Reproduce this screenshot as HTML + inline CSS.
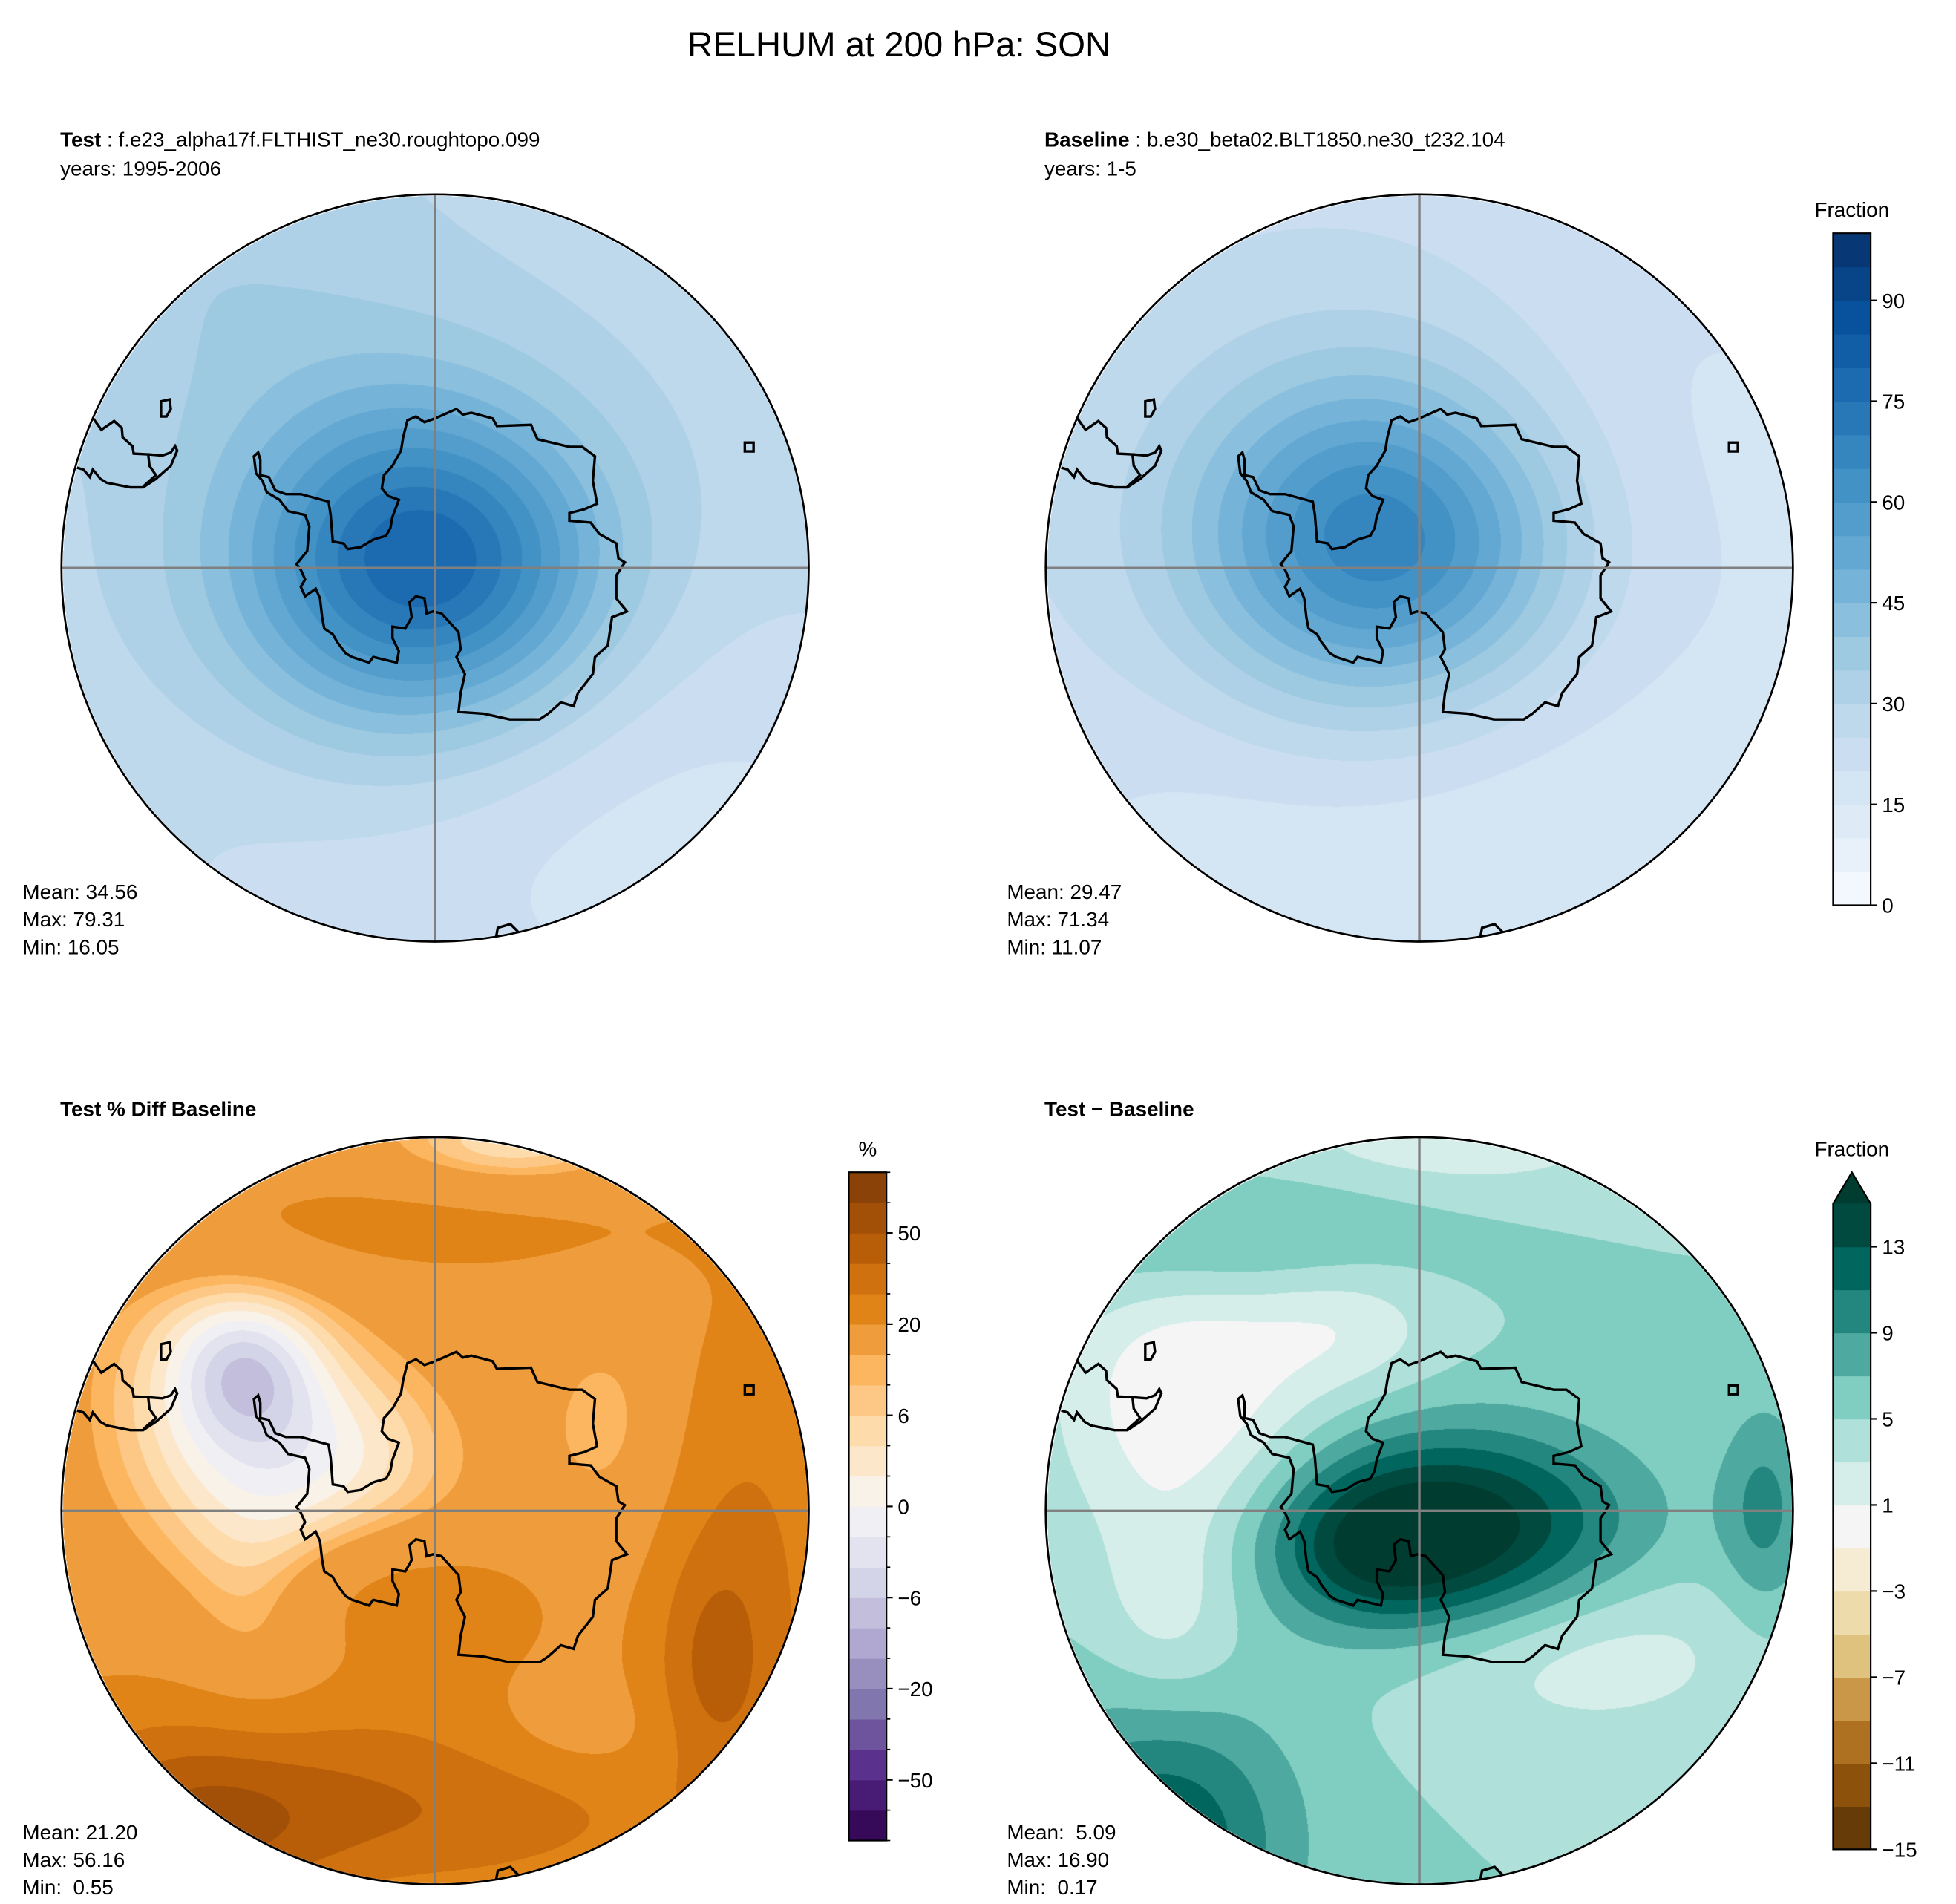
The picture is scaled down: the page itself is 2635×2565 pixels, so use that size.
<!DOCTYPE html>
<html><head><meta charset="utf-8">
<style>
html,body{margin:0;padding:0;background:#fff;}
#wrap{position:relative;width:2635px;height:2565px;}
canvas,svg{position:absolute;left:0;top:0;}
text{font-family:"Liberation Sans","DejaVu Sans",sans-serif;fill:#000;white-space:pre;}
</style></head>
<body>
<div id="wrap">
<canvas id="cv" width="2635" height="2565"></canvas>
<svg id="sv" width="2635" height="2565" viewBox="0 0 1560 1518.6">
<text x="717" y="45" font-size="28" text-anchor="middle">RELHUM at 200 hPa: SON</text>
<text x="48" y="117" font-size="16.5"><tspan font-weight="bold">Test</tspan> : f.e23_alpha17f.FLTHIST_ne30.roughtopo.099</text>
<text x="48" y="140" font-size="16.5">years: 1995-2006</text>
<text x="833" y="117" font-size="16.5"><tspan font-weight="bold">Baseline</tspan> : b.e30_beta02.BLT1850.ne30_t232.104</text>
<text x="833" y="140" font-size="16.5">years: 1-5</text>
<text x="48" y="890" font-size="16.5" font-weight="bold">Test % Diff Baseline</text>
<text x="833" y="890" font-size="16.5" font-weight="bold">Test − Baseline</text>
<g font-size="16.5">
<text x="18" y="717">Mean: 34.56</text>
<text x="18" y="739">Max: 79.31</text>
<text x="18" y="761">Min: 16.05</text>
<text x="803" y="717">Mean: 29.47</text>
<text x="803" y="739">Max: 71.34</text>
<text x="803" y="761">Min: 11.07</text>
<text x="18" y="1467">Mean: 21.20</text>
<text x="18" y="1489">Max: 56.16</text>
<text x="18" y="1511">Min:  0.55</text>
<text x="803" y="1467">Mean:  5.09</text>
<text x="803" y="1489">Max: 16.90</text>
<text x="803" y="1511">Min:  0.17</text>
</g>
<g id="overlay"></g>
</svg>
</div>
<script>
// colorbar levels
const bluesLevels = [0,5,10,15,20,25,30,35,40,45,50,55,60,65,70,75,80,85,90,95,100];
const bluesTicks = [0,15,30,45,60,75,90];
const pctLevels = [-100,-75,-50,-40,-30,-20,-10,-8,-6,-4,-2,0,2,4,6,8,10,20,30,40,50,75,100];
const pctTicks = [-50,-20,-6,0,6,20,50];
const diffLevels = [-15,-13,-11,-9,-7,-5,-3,-1,1,3,5,7,9,11,13,15];
const diffTicks = [-15,-11,-7,-3,1,5,9,13];
// field descriptions: background value and blobs [dx,dy,sx,sy,amp]
const testBg = 28;
const testBlobs = [[-25,-5,100,95,46],[45,0,80,70,10],[-190,-240,120,90,6],[190,230,200,140,-10],[-150,190,120,100,-2]];
const baseBg = 24;
const baseBlobs = [[-45,-25,100,95,42],[40,-10,80,70,7],[210,-90,150,150,-5],[110,240,210,120,-8],[-180,200,120,100,-3]];
const pctBg = 15;
const pctBlobs = [[-170,-85,75,95,-13],[-150,-115,40,40,-8],[-60,-40,70,60,-9],[-140,110,45,70,-8],[140,-70,40,60,-7],[110,180,60,30,-8],[-185,255,70,50,26],[250,60,50,150,17],[220,120,30,60,15],[-100,200,200,60,13],[0,250,140,45,15],[-20,70,80,35,10],[-50,-230,200,35,9],[60,-290,80,30,-12]];
const diffBg = 5;
const diffBlobs = [[25,15,95,55,12],[-40,35,55,40,4],[-205,265,70,80,8],[-185,-95,70,85,-6],[-60,-150,55,40,-3.5],[-160,-215,110,40,4],[275,0,25,60,4.5],[130,110,100,50,-3.5],[20,-290,120,30,-3],[-200,80,40,60,-3]];

const S = 2635/1560;
const R = 298;
const panels = [
 {cx:347,cy:453,bg:testBg,blobs:testBlobs,levels:bluesLevels,cmap:'blues',name:'test-map'},
 {cx:1132,cy:453,bg:baseBg,blobs:baseBlobs,levels:bluesLevels,cmap:'blues',name:'baseline-map'},
 {cx:347,cy:1205,bg:pctBg,blobs:pctBlobs,levels:pctLevels,cmap:'puor',name:'pct-diff-map'},
 {cx:1132,cy:1205,bg:diffBg,blobs:diffBlobs,levels:diffLevels,cmap:'brbg',name:'diff-map'}
];
const anchors = {
 blues:['#f7fbff','#deebf7','#c6dbef','#9ecae1','#6baed6','#4292c6','#2171b5','#08519c','#08306b'],
 puor:['#2d004b','#542788','#8073ac','#b2abd2','#d8daeb','#f7f7f7','#fee0b6','#fdb863','#e08214','#b35806','#7f3b08'],
 brbg:['#543005','#8c510a','#bf812d','#dfc27d','#f6e8c3','#f5f5f5','#c7eae5','#80cdc1','#35978f','#01665e','#003c30']
};
function hex(h){return [parseInt(h.substr(1,2),16),parseInt(h.substr(3,2),16),parseInt(h.substr(5,2),16)];}
function interp(name,t){const a=anchors[name];const p=t*(a.length-1);const i=Math.min(a.length-2,Math.floor(p));const f=p-i;const c0=hex(a[i]),c1=hex(a[i+1]);return c0.map((v,k)=>Math.round(v+(c1[k]-v)*f));}
function colors(name,n){const r=[];for(let i=0;i<n;i++)r.push(interp(name,(i+0.5)/n));return r;}
function levelIndex(levels,v){if(v<levels[0])return 0;for(let i=0;i<levels.length-1;i++){if(v<levels[i+1])return i;}return levels.length-2;}
function field(p,dx,dy){let v=p.bg;for(const b of p.blobs){const u=(dx-b[0])/b[2],w=(dy-b[1])/b[3];v+=b[4]*Math.exp(-0.5*(u*u+w*w));}return v;}

const cv=document.getElementById('cv');const ctx=cv.getContext('2d');
const img=ctx.createImageData(2635,2565);const D=img.data;
for(let i=0;i<D.length;i+=4){D[i]=255;D[i+1]=255;D[i+2]=255;D[i+3]=255;}
for(const p of panels){
 const cols=colors(p.cmap,p.levels.length-1);
 if(p.cmap==='brbg'){cols.push(hex('#003c30'));}
 const x0=Math.floor((p.cx-R)*S),x1=Math.ceil((p.cx+R)*S),y0=Math.floor((p.cy-R)*S),y1=Math.ceil((p.cy+R)*S);
 for(let py=y0;py<=y1;py++){for(let px=x0;px<=x1;px++){
  const dx=px/S-p.cx,dy=py/S-p.cy;if(dx*dx+dy*dy>(R-1)*(R-1))continue;
  const v=field(p,dx,dy);let idx;
  if(p.cmap==='brbg'&&v>=15)idx=cols.length-1;else idx=levelIndex(p.levels,v);
  const c=cols[idx];const o=(py*2635+px)*4;D[o]=c[0];D[o+1]=c[1];D[o+2]=c[2];
 }}
}
ctx.putImageData(img,0,0);

const NS='http://www.w3.org/2000/svg';
const ov=document.getElementById('overlay');
function mk(tag,attrs,parent){const e=document.createElementNS(NS,tag);for(const k in attrs)e.setAttribute(k,attrs[k]);(parent||ov).appendChild(e);return e;}
const coastZ=[[1015,615],[1065,590],[1080,605],[1100,600],[1150,615],[1160,635],[1240,632],[1255,670],[1330,690],[1360,690],[1390,715],[1385,780],[1395,840],[1365,855],[1330,865],[1330,885],[1380,890],[1400,920],[1440,945],[1445,985],[1460,995],[1440,1030],[1440,1090],[1465,1125],[1430,1140],[1420,1215],[1390,1245],[1385,1290],[1350,1340],[1340,1375],[1310,1365],[1280,1395],[1260,1410],[1190,1410],[1130,1395],[1070,1390],[1075,1340],[1085,1290],[1065,1245],[1075,1225],[1070,1180],[1030,1130],[1010,1125],[995,1130],[990,1090],[970,1085],[955,1100],[960,1140],[945,1170],[915,1165],[915,1195],[930,1230],[925,1260],[870,1245],[860,1260],[820,1245],[805,1235],[785,1205],[775,1185],[755,1170],[750,1140],[745,1090],[735,1065],[710,1085],[700,1060],[710,1040],[700,1015],[690,1000],[715,965],[720,900],[710,870],[670,860],[650,830],[620,810],[610,780],[595,760],[590,715],[600,705],[605,725],[605,765],[625,770],[640,805],[665,815],[700,815],[765,835],[770,870],[775,940],[800,945],[810,960],[840,955],[870,935],[900,925],[910,905],[915,875],[930,830],[905,820],[890,800],[895,765],[915,740],[935,700],[940,665],[950,620],[970,610],[990,625],[1015,615]];
const saZ=[[213,615],[232,645],[262,622],[280,640],[282,665],[305,688],[308,708],[342,710],[345,740],[360,765],[330,795]];
const saZ2=[[175,745],[190,750],[205,770],[212,750],[230,775],[245,785],[300,797],[330,797],[360,775],[395,740],[410,700],[405,688],[395,705],[375,713],[342,710]];
const islZ=[[372,570],[392,565],[395,590],[385,610],[372,610],[372,570]];
function zpath(pts,cx,cy,close){return pts.map((q,i)=>(i?'L':'M')+(cx+(q[0]-1015)*0.340).toFixed(1)+' '+(cy+(q[1]-1010)*0.302).toFixed(1)).join(' ')+(close?' Z':'');}
for(const p of panels){
 const g=mk('g',{});
 
 
 const cp=mk('clipPath',{id:'c'+p.name},g);mk('circle',{cx:p.cx,cy:p.cy,r:R},cp);
 const inner=mk('g',{'clip-path':'url(#c'+p.name+')'},g);
 const ant=mk('path',{d:zpath(coastZ,p.cx,p.cy,true),fill:'none',stroke:'#000','stroke-width':2},inner);
 
 
 const sa=mk('path',{d:zpath(saZ,p.cx,p.cy,false)+' '+zpath(saZ2,p.cx,p.cy,false)+' '+zpath(islZ,p.cx,p.cy,true),fill:'none',stroke:'#000','stroke-width':2},inner);
 
 
 mk('rect',{x:p.cx+247,y:p.cy-100,width:7,height:7,fill:'none',stroke:'#000','stroke-width':2},inner);
 mk('path',{d:`M${p.cx+48} ${p.cy+298} L${p.cx+50} ${p.cy+287} L${p.cx+60} ${p.cy+284} L${p.cx+66} ${p.cy+290} L${p.cx+64} ${p.cy+298}`,fill:'none',stroke:'#000','stroke-width':2},inner);
 const gl=mk('path',{d:`M${p.cx-R} ${p.cy} H${p.cx+R} M${p.cx} ${p.cy-R} V${p.cy+R}`,stroke:'#808080','stroke-width':2},inner);
 
 
 const bd=mk('circle',{cx:p.cx,cy:p.cy,r:R,fill:'none',stroke:'#000','stroke-width':1.6},g);
 
 
}
function colorbar(name,x,yTop,yBot,levels,ticks,cmap,label,labelY,extend){
 const g=mk('g',{});
 
 
 const n=levels.length-1;const cols=colors(cmap,n);const h=(yBot-yTop)/n;const w=30;
 for(let i=0;i<n;i++){
  const r=mk('rect',{x:x,y:yBot-(i+1)*h,width:w,height:h+0.4,fill:'rgb('+cols[i].join(',')+')'},g);
  
  
 }
 let outline=`M${x} ${yBot} V${yTop} H${x+w} V${yBot} Z`;
 if(extend){const t=mk('path',{d:`M${x} ${yTop} L${x+w/2} ${yTop-25} L${x+w} ${yTop} Z`,fill:'#003c30'},g);
  
  
  outline=`M${x} ${yBot} V${yTop} L${x+w/2} ${yTop-25} L${x+w} ${yTop} V${yBot} Z`;}
 mk('path',{d:outline,fill:'none',stroke:'#000','stroke-width':1.3},g);
 for(const t of ticks){const i=levels.indexOf(t);const y=yBot-i*h;
  mk('line',{x1:x+w,x2:x+w+5,y1:y,y2:y,stroke:'#000','stroke-width':1.3},g);
  const tx=mk('text',{x:x+w+9,y:y+6,'font-size':16.5},g);tx.textContent=String(t).replace('-','−');
  
  
 }
 if(cmap==='puor'){for(let i=0;i<=n;i++){if(ticks.indexOf(levels[i])<0){const y=yBot-i*h;mk('line',{x1:x+w,x2:x+w+3,y1:y,y2:y,stroke:'#000','stroke-width':1},g);}}}
 const lb=mk('text',{x:x+w/2,y:labelY,'font-size':16.5,'text-anchor':'middle'},g);lb.textContent=label;
 
 
}
colorbar('blues-colorbar',1462,186,722,bluesLevels,bluesTicks,'blues','Fraction',173,false);
colorbar('pct-colorbar',677,935,1468,pctLevels,pctTicks,'puor','%',922,false);
colorbar('diff-colorbar',1462,960,1475,diffLevels,diffTicks,'brbg','Fraction',922,true);
</script>
</body></html>
